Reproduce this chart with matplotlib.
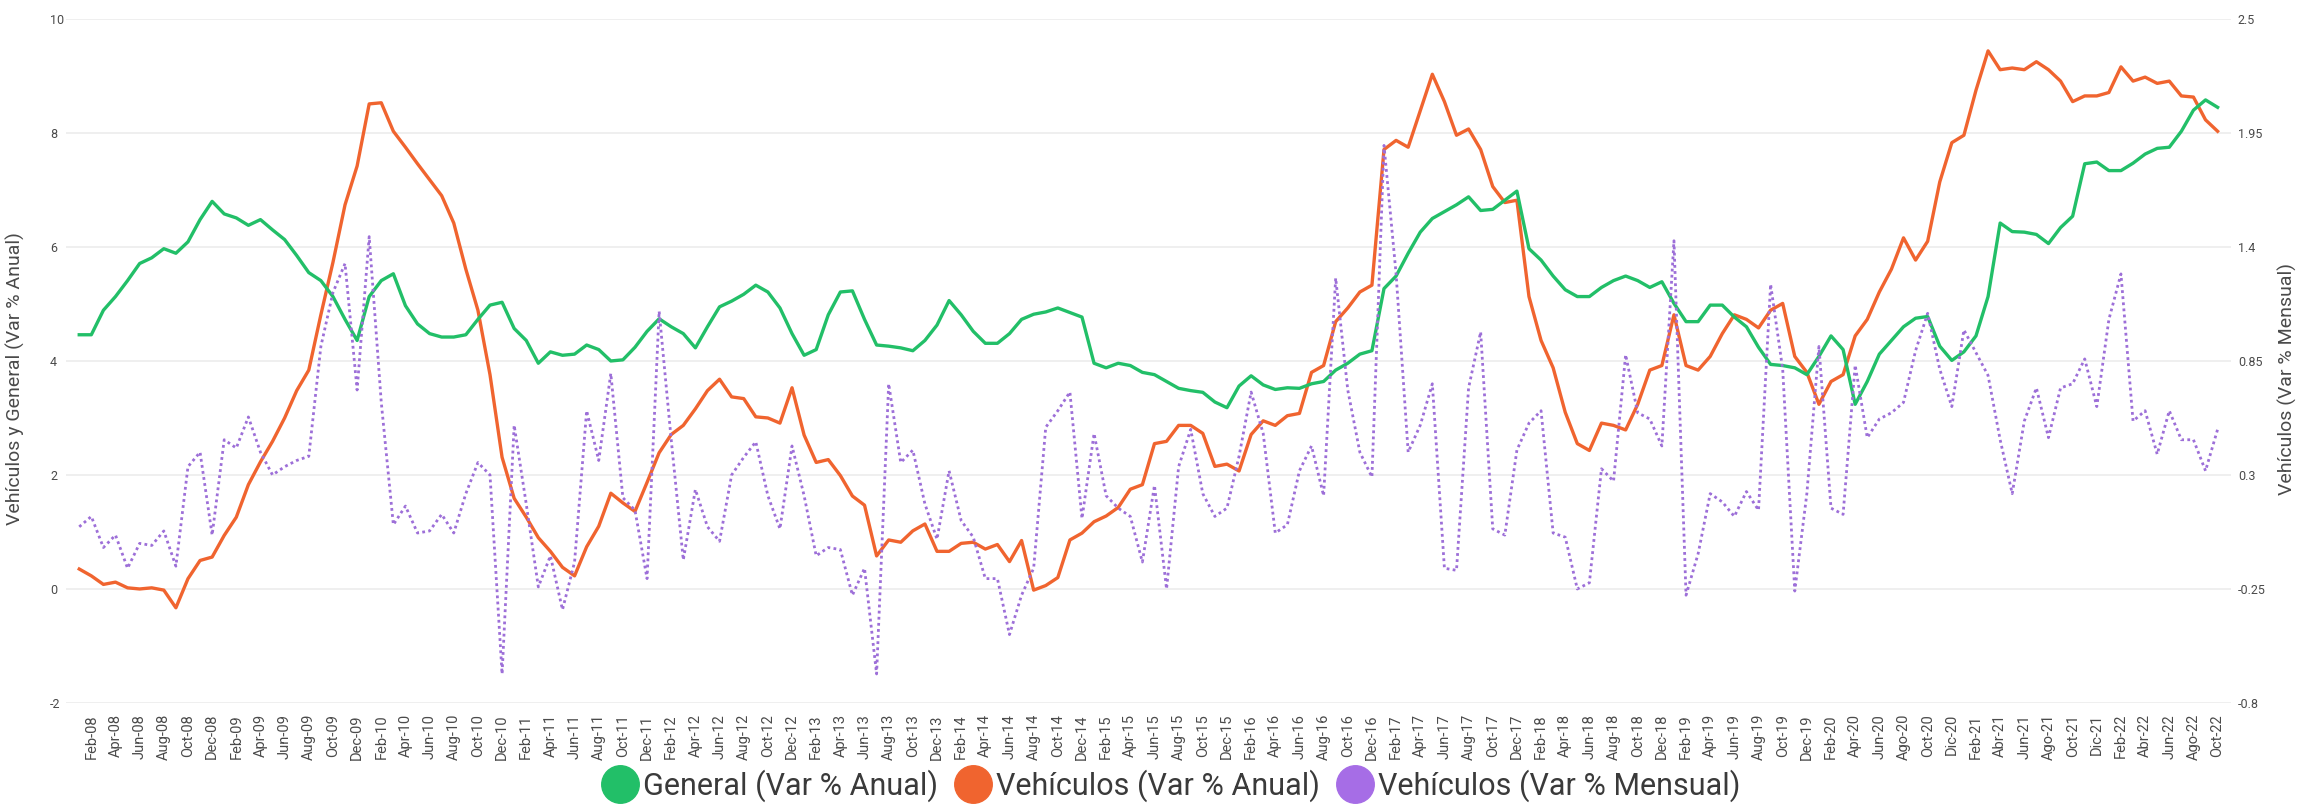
import matplotlib
matplotlib.use("Agg")
from matplotlib import pyplot as plt
from matplotlib.lines import Line2D

# ----------
# Data (monthly, Jan-08 .. Oct-22)

general_anual = [
    4.46, 4.46, 4.89, 5.13, 5.41, 5.71, 5.81, 5.97, 5.89, 6.09, 6.48, 6.80,
    6.58, 6.51, 6.38, 6.48, 6.30, 6.13, 5.85, 5.55, 5.41, 5.13, 4.73, 4.36,
    5.13, 5.41, 5.53, 4.97, 4.65, 4.48, 4.42, 4.42, 4.46, 4.73, 4.98, 5.03,
    4.57, 4.36, 3.96, 4.16, 4.10, 4.12, 4.28, 4.20, 4.00, 4.02, 4.24, 4.52,
    4.74, 4.60, 4.48, 4.23, 4.60, 4.95, 5.05, 5.17, 5.33, 5.21, 4.93, 4.48,
    4.10, 4.20, 4.81, 5.21, 5.23, 4.73, 4.28, 4.26, 4.23, 4.18, 4.36, 4.63,
    5.06, 4.81, 4.52, 4.31, 4.31, 4.48, 4.73, 4.82, 4.86, 4.93, 4.85, 4.77,
    3.96, 3.88, 3.96, 3.92, 3.80, 3.76, 3.64, 3.52, 3.48, 3.45, 3.28, 3.18,
    3.56, 3.74, 3.58, 3.50, 3.53, 3.52, 3.60, 3.64, 3.84, 3.96, 4.12, 4.18,
    5.27, 5.49, 5.89, 6.26, 6.50, 6.62, 6.74, 6.88, 6.64, 6.66, 6.82, 6.98,
    5.97, 5.77, 5.49, 5.25, 5.13, 5.13, 5.29, 5.41, 5.49, 5.41, 5.29, 5.39,
    5.01, 4.69, 4.69, 4.98, 4.98, 4.77, 4.60, 4.24, 3.94, 3.92, 3.88, 3.76,
    4.08, 4.44, 4.20, 3.24, 3.64, 4.12, 4.36, 4.60, 4.75, 4.78, 4.26, 4.01,
    4.16, 4.44, 5.13, 6.42, 6.27, 6.26, 6.22, 6.06, 6.34, 6.54, 7.46, 7.49,
    7.34, 7.34, 7.47, 7.63, 7.73, 7.75, 8.03, 8.40, 8.58, 8.45,
]

vehiculos_anual = [
    0.35, 0.23, 0.08, 0.12, 0.02, 0.00, 0.02, -0.02, -0.33, 0.18, 0.50, 0.56,
    0.94, 1.26, 1.83, 2.23, 2.59, 3.00, 3.48, 3.84, 4.81, 5.73, 6.74, 7.42,
    8.51, 8.53, 8.03, 7.75, 7.46, 7.18, 6.90, 6.42, 5.61, 4.89, 3.76, 2.31,
    1.59, 1.26, 0.90, 0.66, 0.38, 0.23, 0.74, 1.10, 1.68, 1.51, 1.36, 1.87,
    2.39, 2.71, 2.87, 3.16, 3.48, 3.68, 3.37, 3.34, 3.02, 3.00, 2.91, 3.53,
    2.70, 2.22, 2.27, 1.99, 1.63, 1.47, 0.58, 0.86, 0.82, 1.02, 1.14, 0.66,
    0.66, 0.80, 0.82, 0.70, 0.78, 0.48, 0.85, -0.02, 0.06, 0.20, 0.86, 0.98,
    1.18, 1.28, 1.43, 1.75, 1.83, 2.55, 2.59, 2.87, 2.87, 2.73, 2.15, 2.19,
    2.07, 2.71, 2.95, 2.87, 3.04, 3.08, 3.80, 3.92, 4.69, 4.93, 5.21, 5.33,
    7.71, 7.87, 7.75, 8.39, 9.03, 8.55, 7.96, 8.07, 7.71, 7.06, 6.78, 6.82,
    5.13, 4.36, 3.88, 3.10, 2.55, 2.43, 2.91, 2.87, 2.79, 3.24, 3.84, 3.92,
    4.81, 3.92, 3.84, 4.08, 4.48, 4.81, 4.73, 4.58, 4.89, 5.01, 4.08, 3.80,
    3.24, 3.64, 3.76, 4.44, 4.73, 5.21, 5.61, 6.16, 5.77, 6.10, 7.14, 7.83,
    7.96, 8.75, 9.44, 9.11, 9.14, 9.11, 9.25, 9.11, 8.91, 8.55, 8.65, 8.65,
    8.71, 9.16, 8.91, 8.98, 8.87, 8.91, 8.65, 8.63, 8.23, 8.03,
]

vehiculos_mensual = [
    0.05, 0.10, -0.05, 0.01, -0.15, -0.03, -0.04, 0.03, -0.14, 0.34, 0.41, 0.01,
    0.47, 0.43, 0.58, 0.41, 0.30, 0.34, 0.37, 0.39, 0.92, 1.18, 1.32, 0.71,
    1.45, 0.65, 0.06, 0.15, 0.02, 0.03, 0.11, 0.02, 0.21, 0.36, 0.30, -0.66,
    0.54, 0.16, -0.24, -0.09, -0.35, -0.12, 0.61, 0.37, 0.79, 0.19, 0.13, -0.20,
    1.09, 0.47, -0.11, 0.23, 0.05, -0.02, 0.30, 0.385, 0.46, 0.20, 0.04, 0.44,
    0.20, -0.09, -0.05, -0.06, -0.28, -0.15, -0.66, 0.74, 0.36, 0.42, 0.16, -0.01,
    0.32, 0.08, 0.00, -0.20, -0.20, -0.47, -0.28, -0.15, 0.53, 0.61, 0.70, 0.09,
    0.50, 0.20, 0.14, 0.10, -0.12, 0.25, -0.25, 0.34, 0.52, 0.21, 0.10, 0.14,
    0.39, 0.70, 0.50, 0.02, 0.06, 0.32, 0.44, 0.20, 1.25, 0.71, 0.41, 0.29,
    1.89, 1.27, 0.41, 0.54, 0.74, -0.15, -0.16, 0.72, 0.99, 0.04, 0.01, 0.42,
    0.55, 0.61, 0.02, 0.00, -0.25, -0.22, 0.33, 0.27, 0.88, 0.60, 0.57, 0.44,
    1.43, -0.28, -0.08, 0.21, 0.17, 0.10, 0.22, 0.13, 1.22, 0.81, -0.26, 0.21,
    0.92, 0.14, 0.11, 0.83, 0.48, 0.57, 0.60, 0.65, 0.90, 1.08, 0.81, 0.63,
    1.00, 0.89, 0.78, 0.47, 0.21, 0.56, 0.72, 0.48, 0.72, 0.74, 0.86, 0.63,
    1.05, 1.27, 0.56, 0.61, 0.40, 0.61, 0.47, 0.47, 0.32, 0.52,
]

# every second month, starting Feb-08
tick_labels = [
    "Feb-08", "Apr-08", "Jun-08", "Aug-08", "Oct-08", "Dec-08",
    "Feb-09", "Apr-09", "Jun-09", "Aug-09", "Oct-09", "Dec-09",
    "Feb-10", "Apr-10", "Jun-10", "Aug-10", "Oct-10", "Dec-10",
    "Feb-11", "Apr-11", "Jun-11", "Aug-11", "Oct-11", "Dec-11",
    "Feb-12", "Apr-12", "Jun-12", "Aug-12", "Oct-12", "Dec-12",
    "Feb-13", "Apr-13", "Jun-13", "Aug-13", "Oct-13", "Dec-13",
    "Feb-14", "Apr-14", "Jun-14", "Aug-14", "Oct-14", "Dec-14",
    "Feb-15", "Apr-15", "Jun-15", "Aug-15", "Oct-15", "Dec-15",
    "Feb-16", "Apr-16", "Jun-16", "Aug-16", "Oct-16", "Dec-16",
    "Feb-17", "Apr-17", "Jun-17", "Aug-17", "Oct-17", "Dec-17",
    "Feb-18", "Apr-18", "Jun-18", "Aug-18", "Oct-18", "Dec-18",
    "Feb-19", "Apr-19", "Jun-19", "Aug-19", "Oct-19", "Dec-19",
    "Feb-20", "Apr-20", "Jun-20", "Ago-20", "Oct-20", "Dic-20",
    "Feb-21", "Abr-21", "Jun-21", "Ago-21", "Oct-21", "Dic-21",
    "Feb-22", "Abr-22", "Jun-22", "Ago-22", "Oct-22",
]

left_ticks = [-2, 0, 2, 4, 6, 8, 10]
right_ticks = [-0.8, -0.25, 0.3, 0.85, 1.4, 1.95, 2.5]
right_tick_labels = ["-0.8", "-0.25", "0.3", "0.85", "1.4", "1.95", "2.5"]

# ----------
# Style

plt.rcParams['font.family'] = ['Roboto', 'DejaVu Sans']

c_green = '#22bf68'
c_orange = '#f0642f'
c_purple = '#9d6fd8'
c_text = '#4a4a4a'
c_grid = '#ececec'

months = list(range(len(general_anual)))

fig = plt.figure(figsize=(22.98, 8.11), dpi=100)
ax = fig.add_axes([0.0287, 0.1332, 0.9421, 0.8434])
ax2 = ax.twinx()

ax.plot(months, general_anual, color=c_green, lw=2.4, solid_joinstyle='round', zorder=3)
ax.plot(months, vehiculos_anual, color=c_orange, lw=2.4, solid_joinstyle='round', zorder=2)
ax2.plot(months, vehiculos_mensual, color=c_purple, lw=2.0, linestyle=(0, (1, 1.2)))

ax.set_xlim(-1.1, 178.1)
ax.set_ylim(-2, 10)
ax2.set_ylim(-0.8, 2.5)

ax.set_yticks(left_ticks)
ax.set_yticklabels([str(t) for t in left_ticks])
ax2.set_yticks(right_ticks)
ax2.set_yticklabels(right_tick_labels)

ax.set_xticks(months[1::2])
ax.set_xticklabels(tick_labels, rotation=90, fontsize=10.5, color=c_text)

ax.grid(axis='y', color=c_grid, lw=1.2)
ax.set_axisbelow(True)

for a in (ax, ax2):
    for s in a.spines.values():
        s.set_visible(False)

ax.tick_params(axis='x', length=0, pad=8)
ax.tick_params(axis='y', length=0, pad=11.5, labelsize=9, labelcolor=c_text)
ax2.tick_params(axis='y', length=0, pad=5, labelsize=9, labelcolor=c_text)
for lbl in ax.get_yticklabels():
    lbl.set_ha('left')

ax.set_ylabel("Vehículos y General (Var % Anual)", fontsize=14, color=c_text)
ax.yaxis.set_label_coords(-0.019, 0.474)
ax2.set_ylabel("Vehículos (Var % Mensual)", fontsize=14, color=c_text)
ax2.yaxis.set_label_coords(1.0215, 0.474)

handles = [
    Line2D([], [], linestyle='none', marker='o', markersize=27, color=c_green),
    Line2D([], [], linestyle='none', marker='o', markersize=27, color=c_orange),
    Line2D([], [], linestyle='none', marker='o', markersize=27, color='#a66de6'),
]
names = ["General (Var % Anual)", "Vehículos (Var % Anual)", "Vehículos (Var % Mensual)"]
fig.legend(handles, names, loc='center', bbox_to_anchor=(0.51, 0.031), ncol=3,
           frameon=False, fontsize=22, labelcolor='#3a3a3a',
           handlelength=1.1, handletextpad=0.2, columnspacing=0.6, borderpad=0)

fig.savefig("out.png", dpi=100)
